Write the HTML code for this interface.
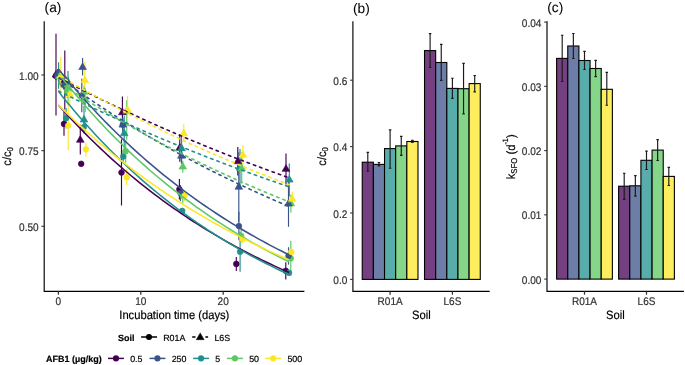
<!DOCTYPE html>
<html><head><meta charset="utf-8"><style>
html,body{margin:0;padding:0;background:#fff;}
svg{display:block;font-family:"Liberation Sans",sans-serif;text-rendering:geometricPrecision;will-change:transform;}
text{stroke:currentColor;stroke-width:0.18px;}
</style></head><body>
<svg width="685" height="365" viewBox="0 0 685 365">
<rect width="685" height="365" fill="#fff"/>
<line x1="55.90" y1="72.00" x2="55.90" y2="80.00" stroke="#440154" stroke-width="1.15"/>
<line x1="56.00" y1="33.80" x2="56.00" y2="115.50" stroke="#440154" stroke-width="1.15"/>
<line x1="64.00" y1="112.00" x2="64.00" y2="135.70" stroke="#440154" stroke-width="1.15"/>
<line x1="64.80" y1="50.60" x2="64.80" y2="109.40" stroke="#440154" stroke-width="1.15"/>
<line x1="81.20" y1="162.00" x2="81.20" y2="165.60" stroke="#440154" stroke-width="1.15"/>
<line x1="80.30" y1="124.70" x2="80.30" y2="154.60" stroke="#440154" stroke-width="1.15"/>
<line x1="121.50" y1="139.30" x2="121.50" y2="205.50" stroke="#440154" stroke-width="1.15"/>
<line x1="122.40" y1="96.50" x2="122.40" y2="128.50" stroke="#440154" stroke-width="1.15"/>
<line x1="179.40" y1="179.00" x2="179.40" y2="199.60" stroke="#440154" stroke-width="1.15"/>
<line x1="179.80" y1="133.90" x2="179.80" y2="161.80" stroke="#440154" stroke-width="1.15"/>
<line x1="236.30" y1="257.00" x2="236.30" y2="270.90" stroke="#440154" stroke-width="1.15"/>
<line x1="237.80" y1="147.00" x2="237.80" y2="175.60" stroke="#440154" stroke-width="1.15"/>
<line x1="285.80" y1="262.20" x2="285.80" y2="279.40" stroke="#440154" stroke-width="1.15"/>
<line x1="286.00" y1="153.60" x2="286.00" y2="184.60" stroke="#440154" stroke-width="1.15"/>
<line x1="58.40" y1="70.00" x2="58.40" y2="81.00" stroke="#21908C" stroke-width="1.15"/>
<line x1="58.60" y1="62.20" x2="58.60" y2="88.80" stroke="#21908C" stroke-width="1.15"/>
<line x1="66.10" y1="108.00" x2="66.10" y2="128.40" stroke="#21908C" stroke-width="1.15"/>
<line x1="68.00" y1="71.10" x2="68.00" y2="93.00" stroke="#21908C" stroke-width="1.15"/>
<line x1="83.80" y1="121.00" x2="83.80" y2="133.00" stroke="#21908C" stroke-width="1.15"/>
<line x1="84.00" y1="106.00" x2="84.00" y2="133.60" stroke="#21908C" stroke-width="1.15"/>
<line x1="123.20" y1="150.00" x2="123.20" y2="163.00" stroke="#21908C" stroke-width="1.15"/>
<line x1="124.20" y1="115.80" x2="124.20" y2="151.20" stroke="#21908C" stroke-width="1.15"/>
<line x1="182.20" y1="208.50" x2="182.20" y2="213.30" stroke="#21908C" stroke-width="1.15"/>
<line x1="181.60" y1="136.00" x2="181.60" y2="161.00" stroke="#21908C" stroke-width="1.15"/>
<line x1="240.10" y1="231.70" x2="240.10" y2="271.70" stroke="#21908C" stroke-width="1.15"/>
<line x1="240.00" y1="149.00" x2="240.00" y2="187.00" stroke="#21908C" stroke-width="1.15"/>
<line x1="289.00" y1="271.30" x2="289.00" y2="274.30" stroke="#21908C" stroke-width="1.15"/>
<line x1="289.30" y1="163.40" x2="289.30" y2="196.40" stroke="#21908C" stroke-width="1.15"/>
<line x1="59.80" y1="72.00" x2="59.80" y2="81.00" stroke="#5DC863" stroke-width="1.15"/>
<line x1="59.40" y1="70.00" x2="59.40" y2="85.00" stroke="#5DC863" stroke-width="1.15"/>
<line x1="67.20" y1="86.00" x2="67.20" y2="98.00" stroke="#5DC863" stroke-width="1.15"/>
<line x1="68.10" y1="74.80" x2="68.10" y2="105.00" stroke="#5DC863" stroke-width="1.15"/>
<line x1="85.20" y1="88.00" x2="85.20" y2="112.00" stroke="#5DC863" stroke-width="1.15"/>
<line x1="84.20" y1="85.00" x2="84.20" y2="99.00" stroke="#5DC863" stroke-width="1.15"/>
<line x1="125.70" y1="140.00" x2="125.70" y2="162.70" stroke="#5DC863" stroke-width="1.15"/>
<line x1="126.70" y1="100.20" x2="126.70" y2="139.70" stroke="#5DC863" stroke-width="1.15"/>
<line x1="182.80" y1="189.00" x2="182.80" y2="203.20" stroke="#5DC863" stroke-width="1.15"/>
<line x1="182.80" y1="160.80" x2="182.80" y2="172.80" stroke="#5DC863" stroke-width="1.15"/>
<line x1="241.20" y1="229.00" x2="241.20" y2="242.50" stroke="#5DC863" stroke-width="1.15"/>
<line x1="241.70" y1="152.00" x2="241.70" y2="183.80" stroke="#5DC863" stroke-width="1.15"/>
<line x1="290.80" y1="240.80" x2="290.80" y2="275.80" stroke="#5DC863" stroke-width="1.15"/>
<line x1="290.90" y1="194.40" x2="290.90" y2="212.80" stroke="#5DC863" stroke-width="1.15"/>
<line x1="57.10" y1="72.00" x2="57.10" y2="78.00" stroke="#3B528B" stroke-width="1.15"/>
<line x1="57.70" y1="69.00" x2="57.70" y2="77.60" stroke="#3B528B" stroke-width="1.15"/>
<line x1="63.40" y1="80.00" x2="63.40" y2="89.60" stroke="#3B528B" stroke-width="1.15"/>
<line x1="65.80" y1="76.00" x2="65.80" y2="88.00" stroke="#3B528B" stroke-width="1.15"/>
<line x1="81.80" y1="78.80" x2="81.80" y2="112.20" stroke="#3B528B" stroke-width="1.15"/>
<line x1="82.60" y1="58.10" x2="82.60" y2="75.50" stroke="#3B528B" stroke-width="1.15"/>
<line x1="122.80" y1="119.00" x2="122.80" y2="130.50" stroke="#3B528B" stroke-width="1.15"/>
<line x1="122.80" y1="118.00" x2="122.80" y2="132.00" stroke="#3B528B" stroke-width="1.15"/>
<line x1="180.50" y1="185.00" x2="180.50" y2="201.10" stroke="#3B528B" stroke-width="1.15"/>
<line x1="181.40" y1="148.00" x2="181.40" y2="163.80" stroke="#3B528B" stroke-width="1.15"/>
<line x1="238.90" y1="211.80" x2="238.90" y2="240.20" stroke="#3B528B" stroke-width="1.15"/>
<line x1="238.80" y1="152.30" x2="238.80" y2="221.70" stroke="#3B528B" stroke-width="1.15"/>
<line x1="288.50" y1="247.20" x2="288.50" y2="264.60" stroke="#3B528B" stroke-width="1.15"/>
<line x1="288.50" y1="180.80" x2="288.50" y2="226.80" stroke="#3B528B" stroke-width="1.15"/>
<line x1="61.10" y1="73.00" x2="61.10" y2="80.00" stroke="#FDE725" stroke-width="1.15"/>
<line x1="60.80" y1="56.80" x2="60.80" y2="90.60" stroke="#FDE725" stroke-width="1.15"/>
<line x1="68.20" y1="101.00" x2="68.20" y2="150.00" stroke="#FDE725" stroke-width="1.15"/>
<line x1="69.80" y1="86.00" x2="69.80" y2="104.40" stroke="#FDE725" stroke-width="1.15"/>
<line x1="85.90" y1="142.70" x2="85.90" y2="156.70" stroke="#FDE725" stroke-width="1.15"/>
<line x1="84.80" y1="62.00" x2="84.80" y2="98.80" stroke="#FDE725" stroke-width="1.15"/>
<line x1="126.70" y1="168.80" x2="126.70" y2="185.20" stroke="#FDE725" stroke-width="1.15"/>
<line x1="127.50" y1="95.70" x2="127.50" y2="124.30" stroke="#FDE725" stroke-width="1.15"/>
<line x1="184.50" y1="190.50" x2="184.50" y2="201.00" stroke="#FDE725" stroke-width="1.15"/>
<line x1="183.80" y1="124.00" x2="183.80" y2="142.10" stroke="#FDE725" stroke-width="1.15"/>
<line x1="242.50" y1="235.00" x2="242.50" y2="243.00" stroke="#FDE725" stroke-width="1.15"/>
<line x1="242.90" y1="144.90" x2="242.90" y2="165.10" stroke="#FDE725" stroke-width="1.15"/>
<line x1="291.30" y1="251.00" x2="291.30" y2="252.80" stroke="#FDE725" stroke-width="1.15"/>
<line x1="292.20" y1="191.70" x2="292.20" y2="206.50" stroke="#FDE725" stroke-width="1.15"/>
<circle cx="55.90" cy="76.00" r="2.85" fill="#440154" stroke="#440154" stroke-width="0.65"/>
<circle cx="64.00" cy="123.90" r="2.85" fill="#440154" stroke="#440154" stroke-width="0.65"/>
<circle cx="81.20" cy="163.80" r="2.85" fill="#440154" stroke="#440154" stroke-width="0.65"/>
<circle cx="121.50" cy="172.50" r="2.85" fill="#440154" stroke="#440154" stroke-width="0.65"/>
<circle cx="179.40" cy="189.30" r="2.85" fill="#440154" stroke="#440154" stroke-width="0.65"/>
<circle cx="236.30" cy="263.90" r="2.85" fill="#440154" stroke="#440154" stroke-width="0.65"/>
<circle cx="285.80" cy="270.80" r="2.85" fill="#440154" stroke="#440154" stroke-width="0.65"/>
<circle cx="58.40" cy="75.50" r="2.85" fill="#21908C" stroke="#21908C" stroke-width="0.65"/>
<circle cx="66.10" cy="118.20" r="2.85" fill="#21908C" stroke="#21908C" stroke-width="0.65"/>
<circle cx="83.80" cy="127.00" r="2.85" fill="#21908C" stroke="#21908C" stroke-width="0.65"/>
<circle cx="123.20" cy="156.50" r="2.85" fill="#21908C" stroke="#21908C" stroke-width="0.65"/>
<circle cx="182.20" cy="210.90" r="2.85" fill="#21908C" stroke="#21908C" stroke-width="0.65"/>
<circle cx="240.10" cy="251.70" r="2.85" fill="#21908C" stroke="#21908C" stroke-width="0.65"/>
<circle cx="289.00" cy="272.80" r="2.85" fill="#21908C" stroke="#21908C" stroke-width="0.65"/>
<circle cx="59.80" cy="76.50" r="2.85" fill="#5DC863" stroke="#5DC863" stroke-width="0.65"/>
<circle cx="67.20" cy="92.00" r="2.85" fill="#5DC863" stroke="#5DC863" stroke-width="0.65"/>
<circle cx="85.20" cy="100.00" r="2.85" fill="#5DC863" stroke="#5DC863" stroke-width="0.65"/>
<circle cx="125.70" cy="151.20" r="2.85" fill="#5DC863" stroke="#5DC863" stroke-width="0.65"/>
<circle cx="182.80" cy="196.00" r="2.85" fill="#5DC863" stroke="#5DC863" stroke-width="0.65"/>
<circle cx="241.20" cy="235.80" r="2.85" fill="#5DC863" stroke="#5DC863" stroke-width="0.65"/>
<circle cx="290.80" cy="258.30" r="2.85" fill="#5DC863" stroke="#5DC863" stroke-width="0.65"/>
<circle cx="57.10" cy="75.00" r="2.85" fill="#3B528B" stroke="#3B528B" stroke-width="0.65"/>
<circle cx="63.40" cy="84.80" r="2.85" fill="#3B528B" stroke="#3B528B" stroke-width="0.65"/>
<circle cx="81.80" cy="95.50" r="2.85" fill="#3B528B" stroke="#3B528B" stroke-width="0.65"/>
<circle cx="122.80" cy="124.60" r="2.85" fill="#3B528B" stroke="#3B528B" stroke-width="0.65"/>
<circle cx="180.50" cy="193.00" r="2.85" fill="#3B528B" stroke="#3B528B" stroke-width="0.65"/>
<circle cx="238.90" cy="226.00" r="2.85" fill="#3B528B" stroke="#3B528B" stroke-width="0.65"/>
<circle cx="288.50" cy="255.90" r="2.85" fill="#3B528B" stroke="#3B528B" stroke-width="0.65"/>
<circle cx="61.10" cy="76.50" r="2.85" fill="#FDE725" stroke="#FDE725" stroke-width="0.65"/>
<circle cx="68.20" cy="125.60" r="2.85" fill="#FDE725" stroke="#FDE725" stroke-width="0.65"/>
<circle cx="85.90" cy="149.30" r="2.85" fill="#FDE725" stroke="#FDE725" stroke-width="0.65"/>
<circle cx="126.70" cy="177.20" r="2.85" fill="#FDE725" stroke="#FDE725" stroke-width="0.65"/>
<circle cx="184.50" cy="195.80" r="2.85" fill="#FDE725" stroke="#FDE725" stroke-width="0.65"/>
<circle cx="242.50" cy="239.00" r="2.85" fill="#FDE725" stroke="#FDE725" stroke-width="0.65"/>
<circle cx="291.30" cy="251.90" r="2.85" fill="#FDE725" stroke="#FDE725" stroke-width="0.65"/>
<path d="M56.00,70.47L59.84,77.12L52.16,77.12Z" fill="#440154" stroke="#440154" stroke-width="0.65" stroke-linejoin="round"/>
<path d="M64.80,75.57L68.64,82.22L60.96,82.22Z" fill="#440154" stroke="#440154" stroke-width="0.65" stroke-linejoin="round"/>
<path d="M80.30,135.57L84.14,142.22L76.46,142.22Z" fill="#440154" stroke="#440154" stroke-width="0.65" stroke-linejoin="round"/>
<path d="M122.40,108.07L126.24,114.72L118.56,114.72Z" fill="#440154" stroke="#440154" stroke-width="0.65" stroke-linejoin="round"/>
<path d="M179.80,143.57L183.64,150.22L175.96,150.22Z" fill="#440154" stroke="#440154" stroke-width="0.65" stroke-linejoin="round"/>
<path d="M237.80,157.07L241.64,163.72L233.96,163.72Z" fill="#440154" stroke="#440154" stroke-width="0.65" stroke-linejoin="round"/>
<path d="M286.00,164.67L289.84,171.32L282.16,171.32Z" fill="#440154" stroke="#440154" stroke-width="0.65" stroke-linejoin="round"/>
<path d="M58.60,71.37L62.44,78.02L54.76,78.02Z" fill="#21908C" stroke="#21908C" stroke-width="0.65" stroke-linejoin="round"/>
<path d="M68.00,77.57L71.84,84.22L64.16,84.22Z" fill="#21908C" stroke="#21908C" stroke-width="0.65" stroke-linejoin="round"/>
<path d="M84.00,115.37L87.84,122.02L80.16,122.02Z" fill="#21908C" stroke="#21908C" stroke-width="0.65" stroke-linejoin="round"/>
<path d="M124.20,129.07L128.04,135.72L120.36,135.72Z" fill="#21908C" stroke="#21908C" stroke-width="0.65" stroke-linejoin="round"/>
<path d="M181.60,144.07L185.44,150.72L177.76,150.72Z" fill="#21908C" stroke="#21908C" stroke-width="0.65" stroke-linejoin="round"/>
<path d="M240.00,163.57L243.84,170.22L236.16,170.22Z" fill="#21908C" stroke="#21908C" stroke-width="0.65" stroke-linejoin="round"/>
<path d="M289.30,175.47L293.14,182.12L285.46,182.12Z" fill="#21908C" stroke="#21908C" stroke-width="0.65" stroke-linejoin="round"/>
<path d="M59.40,72.37L63.24,79.02L55.56,79.02Z" fill="#5DC863" stroke="#5DC863" stroke-width="0.65" stroke-linejoin="round"/>
<path d="M68.10,83.57L71.94,90.22L64.26,90.22Z" fill="#5DC863" stroke="#5DC863" stroke-width="0.65" stroke-linejoin="round"/>
<path d="M84.20,87.57L88.04,94.22L80.36,94.22Z" fill="#5DC863" stroke="#5DC863" stroke-width="0.65" stroke-linejoin="round"/>
<path d="M126.70,106.57L130.54,113.22L122.86,113.22Z" fill="#5DC863" stroke="#5DC863" stroke-width="0.65" stroke-linejoin="round"/>
<path d="M182.80,162.37L186.64,169.02L178.96,169.02Z" fill="#5DC863" stroke="#5DC863" stroke-width="0.65" stroke-linejoin="round"/>
<path d="M241.70,164.07L245.54,170.72L237.86,170.72Z" fill="#5DC863" stroke="#5DC863" stroke-width="0.65" stroke-linejoin="round"/>
<path d="M290.90,199.17L294.74,205.82L287.06,205.82Z" fill="#5DC863" stroke="#5DC863" stroke-width="0.65" stroke-linejoin="round"/>
<path d="M57.70,69.37L61.54,76.02L53.86,76.02Z" fill="#3B528B" stroke="#3B528B" stroke-width="0.65" stroke-linejoin="round"/>
<path d="M65.80,77.57L69.64,84.22L61.96,84.22Z" fill="#3B528B" stroke="#3B528B" stroke-width="0.65" stroke-linejoin="round"/>
<path d="M82.60,62.87L86.44,69.52L78.76,69.52Z" fill="#3B528B" stroke="#3B528B" stroke-width="0.65" stroke-linejoin="round"/>
<path d="M122.80,120.47L126.64,127.12L118.96,127.12Z" fill="#3B528B" stroke="#3B528B" stroke-width="0.65" stroke-linejoin="round"/>
<path d="M181.40,151.57L185.24,158.22L177.56,158.22Z" fill="#3B528B" stroke="#3B528B" stroke-width="0.65" stroke-linejoin="round"/>
<path d="M238.80,182.57L242.64,189.22L234.96,189.22Z" fill="#3B528B" stroke="#3B528B" stroke-width="0.65" stroke-linejoin="round"/>
<path d="M288.50,199.37L292.34,206.02L284.66,206.02Z" fill="#3B528B" stroke="#3B528B" stroke-width="0.65" stroke-linejoin="round"/>
<path d="M60.80,71.37L64.64,78.02L56.96,78.02Z" fill="#FDE725" stroke="#FDE725" stroke-width="0.65" stroke-linejoin="round"/>
<path d="M69.80,89.97L73.64,96.62L65.96,96.62Z" fill="#FDE725" stroke="#FDE725" stroke-width="0.65" stroke-linejoin="round"/>
<path d="M84.80,75.97L88.64,82.62L80.96,82.62Z" fill="#FDE725" stroke="#FDE725" stroke-width="0.65" stroke-linejoin="round"/>
<path d="M127.50,105.57L131.34,112.22L123.66,112.22Z" fill="#FDE725" stroke="#FDE725" stroke-width="0.65" stroke-linejoin="round"/>
<path d="M183.80,129.07L187.64,135.72L179.96,135.72Z" fill="#FDE725" stroke="#FDE725" stroke-width="0.65" stroke-linejoin="round"/>
<path d="M242.90,150.57L246.74,157.22L239.06,157.22Z" fill="#FDE725" stroke="#FDE725" stroke-width="0.65" stroke-linejoin="round"/>
<path d="M292.20,194.67L296.04,201.32L288.36,201.32Z" fill="#FDE725" stroke="#FDE725" stroke-width="0.65" stroke-linejoin="round"/>
<polyline points="58.40,104.96 62.25,109.25 66.09,113.48 69.94,117.65 73.78,121.74 77.63,125.77 81.47,129.74 85.32,133.65 89.16,137.49 93.01,141.28 96.85,145.00 100.70,148.67 104.54,152.28 108.39,155.83 112.23,159.32 116.08,162.76 119.93,166.15 123.77,169.48 127.62,172.76 131.46,175.99 135.31,179.17 139.15,182.29 143.00,185.37 146.84,188.40 150.69,191.38 154.53,194.32 158.38,197.21 162.22,200.05 166.07,202.85 169.91,205.60 173.76,208.31 177.61,210.98 181.45,213.61 185.30,216.19 189.14,218.73 192.99,221.24 196.83,223.70 200.68,226.13 204.52,228.51 208.37,230.86 212.21,233.18 216.06,235.45 219.90,237.69 223.75,239.90 227.59,242.07 231.44,244.20 235.29,246.31 239.13,248.38 242.98,250.41 246.82,252.42 250.67,254.39 254.51,256.33 258.36,258.24 262.20,260.12 266.05,261.97 269.89,263.80 273.74,265.59 277.58,267.36 281.43,269.09 285.27,270.80 289.12,272.49" fill="none" stroke="#440154" stroke-width="1.55"/>
<polyline points="58.40,77.66 62.25,79.69 66.09,81.69 69.94,83.69 73.78,85.67 77.63,87.64 81.47,89.60 85.32,91.54 89.16,93.47 93.01,95.38 96.85,97.29 100.70,99.18 104.54,101.06 108.39,102.92 112.23,104.77 116.08,106.61 119.93,108.44 123.77,110.26 127.62,112.06 131.46,113.85 135.31,115.63 139.15,117.39 143.00,119.15 146.84,120.89 150.69,122.62 154.53,124.34 158.38,126.05 162.22,127.75 166.07,129.43 169.91,131.11 173.76,132.77 177.61,134.42 181.45,136.06 185.30,137.69 189.14,139.31 192.99,140.91 196.83,142.51 200.68,144.09 204.52,145.67 208.37,147.23 212.21,148.79 216.06,150.33 219.90,151.86 223.75,153.38 227.59,154.90 231.44,156.40 235.29,157.89 239.13,159.37 242.98,160.84 246.82,162.31 250.67,163.76 254.51,165.20 258.36,166.63 262.20,168.05 266.05,169.47 269.89,170.87 273.74,172.27 277.58,173.65 281.43,175.03 285.27,176.39 289.12,177.75" fill="none" stroke="#440154" stroke-width="1.62" stroke-dasharray="2.4 4.25" stroke-dashoffset="-0.91" stroke-linecap="round"/>
<polyline points="58.40,68.95 62.25,73.66 66.09,78.29 69.94,82.86 73.78,87.35 77.63,91.78 81.47,96.14 85.32,100.44 89.16,104.66 93.01,108.83 96.85,112.93 100.70,116.96 104.54,120.94 108.39,124.86 112.23,128.71 116.08,132.51 119.93,136.25 123.77,139.93 127.62,143.55 131.46,147.12 135.31,150.64 139.15,154.10 143.00,157.51 146.84,160.87 150.69,164.17 154.53,167.43 158.38,170.64 162.22,173.79 166.07,176.90 169.91,179.96 173.76,182.98 177.61,185.95 181.45,188.87 185.30,191.75 189.14,194.59 192.99,197.38 196.83,200.13 200.68,202.83 204.52,205.50 208.37,208.12 212.21,210.71 216.06,213.26 219.90,215.76 223.75,218.23 227.59,220.66 231.44,223.06 235.29,225.41 239.13,227.74 242.98,230.02 246.82,232.27 250.67,234.49 254.51,236.67 258.36,238.82 262.20,240.94 266.05,243.02 269.89,245.08 273.74,247.10 277.58,249.09 281.43,251.05 285.27,252.98 289.12,254.88" fill="none" stroke="#3B528B" stroke-width="1.55"/>
<polyline points="58.40,77.00 62.25,79.81 66.09,82.59 69.94,85.35 73.78,88.08 77.63,90.78 81.47,93.46 85.32,96.12 89.16,98.75 93.01,101.36 96.85,103.94 100.70,106.49 104.54,109.03 108.39,111.54 112.23,114.02 116.08,116.49 119.93,118.93 123.77,121.35 127.62,123.74 131.46,126.11 135.31,128.46 139.15,130.79 143.00,133.10 146.84,135.38 150.69,137.65 154.53,139.89 158.38,142.11 162.22,144.31 166.07,146.49 169.91,148.65 173.76,150.79 177.61,152.91 181.45,155.01 185.30,157.09 189.14,159.15 192.99,161.19 196.83,163.21 200.68,165.22 204.52,167.20 208.37,169.17 212.21,171.12 216.06,173.05 219.90,174.96 223.75,176.85 227.59,178.73 231.44,180.59 235.29,182.43 239.13,184.25 242.98,186.06 246.82,187.85 250.67,189.62 254.51,191.38 258.36,193.12 262.20,194.84 266.05,196.55 269.89,198.24 273.74,199.92 277.58,201.58 281.43,203.22 285.27,204.85 289.12,206.47" fill="none" stroke="#3B528B" stroke-width="1.62" stroke-dasharray="2.4 4.25" stroke-dashoffset="-1.79" stroke-linecap="round"/>
<polyline points="58.40,91.34 62.25,96.18 66.09,100.93 69.94,105.60 73.78,110.19 77.63,114.71 81.47,119.15 85.32,123.52 89.16,127.81 93.01,132.03 96.85,136.17 100.70,140.25 104.54,144.26 108.39,148.20 112.23,152.07 116.08,155.88 119.93,159.63 123.77,163.31 127.62,166.93 131.46,170.49 135.31,173.98 139.15,177.42 143.00,180.80 146.84,184.13 150.69,187.40 154.53,190.61 158.38,193.77 162.22,196.87 166.07,199.92 169.91,202.92 173.76,205.87 177.61,208.77 181.45,211.63 185.30,214.43 189.14,217.18 192.99,219.89 196.83,222.56 200.68,225.18 204.52,227.75 208.37,230.28 212.21,232.77 216.06,235.22 219.90,237.62 223.75,239.98 227.59,242.31 231.44,244.59 235.29,246.84 239.13,249.05 242.98,251.22 246.82,253.35 250.67,255.45 254.51,257.52 258.36,259.54 262.20,261.54 266.05,263.50 269.89,265.42 273.74,267.32 277.58,269.18 281.43,271.01 285.27,272.81 289.12,274.58" fill="none" stroke="#21908C" stroke-width="1.55"/>
<polyline points="58.40,90.89 62.25,92.83 66.09,94.75 69.94,96.66 73.78,98.56 77.63,100.45 81.47,102.32 85.32,104.19 89.16,106.04 93.01,107.87 96.85,109.70 100.70,111.51 104.54,113.31 108.39,115.09 112.23,116.87 116.08,118.63 119.93,120.38 123.77,122.12 127.62,123.85 131.46,125.57 135.31,127.27 139.15,128.96 143.00,130.65 146.84,132.32 150.69,133.97 154.53,135.62 158.38,137.26 162.22,138.88 166.07,140.50 169.91,142.10 173.76,143.69 177.61,145.27 181.45,146.85 185.30,148.41 189.14,149.96 192.99,151.50 196.83,153.02 200.68,154.54 204.52,156.05 208.37,157.55 212.21,159.04 216.06,160.52 219.90,161.98 223.75,163.44 227.59,164.89 231.44,166.33 235.29,167.76 239.13,169.18 242.98,170.59 246.82,171.99 250.67,173.38 254.51,174.76 258.36,176.13 262.20,177.49 266.05,178.84 269.89,180.19 273.74,181.52 277.58,182.85 281.43,184.17 285.27,185.47 289.12,186.77" fill="none" stroke="#21908C" stroke-width="1.62" stroke-dasharray="2.4 4.25" stroke-dashoffset="-0.45" stroke-linecap="round"/>
<polyline points="58.40,73.49 62.25,78.34 66.09,83.12 69.94,87.83 73.78,92.45 77.63,97.01 81.47,101.49 85.32,105.90 89.16,110.24 93.01,114.51 96.85,118.71 100.70,122.85 104.54,126.91 108.39,130.92 112.23,134.86 116.08,138.73 119.93,142.55 123.77,146.30 127.62,150.00 131.46,153.63 135.31,157.21 139.15,160.73 143.00,164.19 146.84,167.60 150.69,170.96 154.53,174.26 158.38,177.50 162.22,180.70 166.07,183.84 169.91,186.94 173.76,189.98 177.61,192.98 181.45,195.93 185.30,198.83 189.14,201.69 192.99,204.49 196.83,207.26 200.68,209.98 204.52,212.66 208.37,215.29 212.21,217.88 216.06,220.43 219.90,222.94 223.75,225.41 227.59,227.85 231.44,230.24 235.29,232.59 239.13,234.91 242.98,237.19 246.82,239.43 250.67,241.63 254.51,243.81 258.36,245.94 262.20,248.05 266.05,250.11 269.89,252.15 273.74,254.15 277.58,256.13 281.43,258.07 285.27,259.98 289.12,261.85" fill="none" stroke="#5DC863" stroke-width="1.55"/>
<polyline points="58.40,82.02 62.25,84.57 66.09,87.10 69.94,89.61 73.78,92.09 77.63,94.55 81.47,97.00 85.32,99.42 89.16,101.82 93.01,104.20 96.85,106.56 100.70,108.90 104.54,111.21 108.39,113.51 112.23,115.79 116.08,118.05 119.93,120.29 123.77,122.51 127.62,124.71 131.46,126.89 135.31,129.06 139.15,131.20 143.00,133.33 146.84,135.43 150.69,137.52 154.53,139.60 158.38,141.65 162.22,143.69 166.07,145.70 169.91,147.70 173.76,149.69 177.61,151.65 181.45,153.60 185.30,155.54 189.14,157.45 192.99,159.35 196.83,161.24 200.68,163.10 204.52,164.95 208.37,166.79 212.21,168.61 216.06,170.41 219.90,172.20 223.75,173.97 227.59,175.73 231.44,177.47 235.29,179.20 239.13,180.91 242.98,182.61 246.82,184.29 250.67,185.96 254.51,187.61 258.36,189.25 262.20,190.87 266.05,192.49 269.89,194.08 273.74,195.67 277.58,197.24 281.43,198.79 285.27,200.34 289.12,201.86" fill="none" stroke="#5DC863" stroke-width="1.62" stroke-dasharray="2.4 4.25" stroke-dashoffset="-1.01" stroke-linecap="round"/>
<polyline points="58.40,104.96 62.25,108.75 66.09,112.49 69.94,116.17 73.78,119.81 77.63,123.39 81.47,126.92 85.32,130.41 89.16,133.85 93.01,137.23 96.85,140.58 100.70,143.87 104.54,147.12 108.39,150.32 112.23,153.48 116.08,156.60 119.93,159.67 123.77,162.70 127.62,165.69 131.46,168.64 135.31,171.54 139.15,174.41 143.00,177.23 146.84,180.02 150.69,182.76 154.53,185.47 158.38,188.14 162.22,190.78 166.07,193.37 169.91,195.94 173.76,198.46 177.61,200.95 181.45,203.41 185.30,205.83 189.14,208.22 192.99,210.57 196.83,212.89 200.68,215.18 204.52,217.44 208.37,219.67 212.21,221.86 216.06,224.03 219.90,226.16 223.75,228.27 227.59,230.35 231.44,232.39 235.29,234.41 239.13,236.40 242.98,238.37 246.82,240.30 250.67,242.21 254.51,244.09 258.36,245.95 262.20,247.78 266.05,249.58 269.89,251.36 273.74,253.12 277.58,254.85 281.43,256.56 285.27,258.24 289.12,259.90" fill="none" stroke="#FDE725" stroke-width="1.55"/>
<polyline points="58.40,75.15 62.25,77.41 66.09,79.65 69.94,81.87 73.78,84.08 77.63,86.27 81.47,88.44 85.32,90.60 89.16,92.74 93.01,94.87 96.85,96.98 100.70,99.07 104.54,101.15 108.39,103.21 112.23,105.26 116.08,107.29 119.93,109.31 123.77,111.31 127.62,113.30 131.46,115.27 135.31,117.23 139.15,119.17 143.00,121.10 146.84,123.01 150.69,124.91 154.53,126.80 158.38,128.67 162.22,130.53 166.07,132.37 169.91,134.20 173.76,136.02 177.61,137.82 181.45,139.61 185.30,141.39 189.14,143.15 192.99,144.90 196.83,146.63 200.68,148.36 204.52,150.07 208.37,151.77 212.21,153.45 216.06,155.12 219.90,156.78 223.75,158.43 227.59,160.07 231.44,161.69 235.29,163.30 239.13,164.90 242.98,166.49 246.82,168.06 250.67,169.63 254.51,171.18 258.36,172.72 262.20,174.25 266.05,175.76 269.89,177.27 273.74,178.77 277.58,180.25 281.43,181.72 285.27,183.18 289.12,184.63" fill="none" stroke="#FDE725" stroke-width="1.62" stroke-dasharray="2.4 4.25" stroke-dashoffset="-1.23" stroke-linecap="round"/>
<path d="M44.2,21.3V291.4H304.4" fill="none" stroke="#000" stroke-width="1.15"/>
<line x1="41.4" y1="75.00" x2="44.2" y2="75.00" stroke="#333333" stroke-width="1.1"/>
<text transform="translate(38.60,79.50) scale(1,1.1)" font-size="10.05" fill="#303030" color="#303030" text-anchor="end">1.00</text>
<line x1="41.4" y1="150.65" x2="44.2" y2="150.65" stroke="#333333" stroke-width="1.1"/>
<text transform="translate(38.60,155.15) scale(1,1.1)" font-size="10.05" fill="#303030" color="#303030" text-anchor="end">0.75</text>
<line x1="41.4" y1="226.30" x2="44.2" y2="226.30" stroke="#333333" stroke-width="1.1"/>
<text transform="translate(38.60,230.80) scale(1,1.1)" font-size="10.05" fill="#303030" color="#303030" text-anchor="end">0.50</text>
<line x1="58.40" y1="291.4" x2="58.40" y2="294.7" stroke="#333333" stroke-width="1.25"/>
<text transform="translate(58.40,304.90) scale(1,1.1)" font-size="10.05" fill="#303030" color="#303030" text-anchor="middle">0</text>
<line x1="140.80" y1="291.4" x2="140.80" y2="294.7" stroke="#333333" stroke-width="1.25"/>
<text transform="translate(140.80,304.90) scale(1,1.1)" font-size="10.05" fill="#303030" color="#303030" text-anchor="middle">10</text>
<line x1="223.20" y1="291.4" x2="223.20" y2="294.7" stroke="#333333" stroke-width="1.25"/>
<text transform="translate(223.20,304.90) scale(1,1.1)" font-size="10.05" fill="#303030" color="#303030" text-anchor="middle">20</text>
<text transform="translate(174.3,319.2) scale(1,1.08)" font-size="11.2" text-anchor="middle">Incubation time (days)</text>
<text transform="translate(11.1,156.4) rotate(-90) scale(1,1.08)" font-size="11.2" text-anchor="middle">c/c<tspan font-size="7.8" dy="2.0">0</tspan></text>
<text x="44.6" y="12.2" font-size="13.7" style="stroke-width:0.05px">(a)</text>
<path d="M352.9,21.3V291.4H489.7" fill="none" stroke="#000" stroke-width="1.15"/>
<line x1="350.09999999999997" y1="279.40" x2="352.9" y2="279.40" stroke="#333333" stroke-width="1.1"/>
<text transform="translate(347.30,283.90) scale(1,1.1)" font-size="10.05" fill="#303030" color="#303030" text-anchor="end">0.0</text>
<line x1="350.09999999999997" y1="213.00" x2="352.9" y2="213.00" stroke="#333333" stroke-width="1.1"/>
<text transform="translate(347.30,217.50) scale(1,1.1)" font-size="10.05" fill="#303030" color="#303030" text-anchor="end">0.2</text>
<line x1="350.09999999999997" y1="146.60" x2="352.9" y2="146.60" stroke="#333333" stroke-width="1.1"/>
<text transform="translate(347.30,151.10) scale(1,1.1)" font-size="10.05" fill="#303030" color="#303030" text-anchor="end">0.4</text>
<line x1="350.09999999999997" y1="80.20" x2="352.9" y2="80.20" stroke="#333333" stroke-width="1.1"/>
<text transform="translate(347.30,84.70) scale(1,1.1)" font-size="10.05" fill="#303030" color="#303030" text-anchor="end">0.6</text>
<rect x="362.23" y="162.20" width="11.15" height="117.20" fill="#744081" stroke="#000" stroke-width="1.1"/>
<rect x="373.38" y="164.40" width="11.15" height="115.00" fill="#6C7DA8" stroke="#000" stroke-width="1.1"/>
<rect x="384.53" y="148.60" width="11.15" height="130.80" fill="#58ACA9" stroke="#000" stroke-width="1.1"/>
<rect x="395.68" y="145.90" width="11.15" height="133.50" fill="#86D68A" stroke="#000" stroke-width="1.1"/>
<rect x="406.83" y="141.50" width="11.15" height="137.90" fill="#FEED5C" stroke="#000" stroke-width="1.1"/>
<path d="M366.55,152.40H369.05M367.80,152.40V171.20M366.55,171.20H369.05" stroke="#1a1a1a" stroke-width="1.15" fill="none"/>
<path d="M377.70,162.50H380.20M378.95,162.50V165.90M377.70,165.90H380.20" stroke="#1a1a1a" stroke-width="1.15" fill="none"/>
<path d="M388.85,129.80H391.35M390.10,129.80V168.20M388.85,168.20H391.35" stroke="#1a1a1a" stroke-width="1.15" fill="none"/>
<path d="M400.00,136.30H402.50M401.25,136.30V155.40M400.00,155.40H402.50" stroke="#1a1a1a" stroke-width="1.15" fill="none"/>
<path d="M411.15,140.30H413.65M412.40,140.30V142.30M411.15,142.30H413.65" stroke="#1a1a1a" stroke-width="1.15" fill="none"/>
<line x1="390.10" y1="291.4" x2="390.10" y2="294.7" stroke="#333333" stroke-width="1.25"/>
<text transform="translate(390.10,304.90) scale(1,1.1)" font-size="10.05" fill="#303030" color="#303030" text-anchor="middle">R01A</text>
<rect x="424.52" y="50.60" width="11.15" height="228.80" fill="#744081" stroke="#000" stroke-width="1.1"/>
<rect x="435.67" y="62.50" width="11.15" height="216.90" fill="#6C7DA8" stroke="#000" stroke-width="1.1"/>
<rect x="446.82" y="88.40" width="11.15" height="191.00" fill="#58ACA9" stroke="#000" stroke-width="1.1"/>
<rect x="457.97" y="88.70" width="11.15" height="190.70" fill="#86D68A" stroke="#000" stroke-width="1.1"/>
<rect x="469.12" y="83.60" width="11.15" height="195.80" fill="#FEED5C" stroke="#000" stroke-width="1.1"/>
<path d="M428.85,33.60H431.35M430.10,33.60V67.50M428.85,67.50H431.35" stroke="#1a1a1a" stroke-width="1.15" fill="none"/>
<path d="M440.00,44.30H442.50M441.25,44.30V80.40M440.00,80.40H442.50" stroke="#1a1a1a" stroke-width="1.15" fill="none"/>
<path d="M451.15,78.20H453.65M452.40,78.20V98.40M451.15,98.40H453.65" stroke="#1a1a1a" stroke-width="1.15" fill="none"/>
<path d="M462.30,63.40H464.80M463.55,63.40V113.90M462.30,113.90H464.80" stroke="#1a1a1a" stroke-width="1.15" fill="none"/>
<path d="M473.45,75.50H475.95M474.70,75.50V91.80M473.45,91.80H475.95" stroke="#1a1a1a" stroke-width="1.15" fill="none"/>
<line x1="452.40" y1="291.4" x2="452.40" y2="294.7" stroke="#333333" stroke-width="1.25"/>
<text transform="translate(452.40,304.90) scale(1,1.1)" font-size="10.05" fill="#303030" color="#303030" text-anchor="middle">L6S</text>
<text transform="translate(421.3,319.2) scale(1,1.08)" font-size="11.2" text-anchor="middle">Soil</text>
<text transform="translate(325.8,156.4) rotate(-90) scale(1,1.08)" font-size="11.2" text-anchor="middle">c/c<tspan font-size="7.8" dy="2.0">0</tspan></text>
<text x="353.0" y="12.6" font-size="13.7" style="stroke-width:0.05px">(b)</text>
<path d="M547.0,21.3V291.4H683.9" fill="none" stroke="#000" stroke-width="1.15"/>
<line x1="544.2" y1="279.10" x2="547.0" y2="279.10" stroke="#333333" stroke-width="1.1"/>
<text transform="translate(541.40,283.60) scale(1,1.1)" font-size="10.05" fill="#303030" color="#303030" text-anchor="end">0.00</text>
<line x1="544.2" y1="214.85" x2="547.0" y2="214.85" stroke="#333333" stroke-width="1.1"/>
<text transform="translate(541.40,219.35) scale(1,1.1)" font-size="10.05" fill="#303030" color="#303030" text-anchor="end">0.01</text>
<line x1="544.2" y1="150.60" x2="547.0" y2="150.60" stroke="#333333" stroke-width="1.1"/>
<text transform="translate(541.40,155.10) scale(1,1.1)" font-size="10.05" fill="#303030" color="#303030" text-anchor="end">0.02</text>
<line x1="544.2" y1="86.35" x2="547.0" y2="86.35" stroke="#333333" stroke-width="1.1"/>
<text transform="translate(541.40,90.85) scale(1,1.1)" font-size="10.05" fill="#303030" color="#303030" text-anchor="end">0.03</text>
<line x1="544.2" y1="22.10" x2="547.0" y2="22.10" stroke="#333333" stroke-width="1.1"/>
<text transform="translate(541.40,26.60) scale(1,1.1)" font-size="10.05" fill="#303030" color="#303030" text-anchor="end">0.04</text>
<rect x="556.62" y="58.40" width="11.15" height="220.70" fill="#744081" stroke="#000" stroke-width="1.1"/>
<rect x="567.77" y="46.00" width="11.15" height="233.10" fill="#6C7DA8" stroke="#000" stroke-width="1.1"/>
<rect x="578.92" y="60.50" width="11.15" height="218.60" fill="#58ACA9" stroke="#000" stroke-width="1.1"/>
<rect x="590.08" y="68.50" width="11.15" height="210.60" fill="#86D68A" stroke="#000" stroke-width="1.1"/>
<rect x="601.23" y="89.30" width="11.15" height="189.80" fill="#FEED5C" stroke="#000" stroke-width="1.1"/>
<path d="M560.95,35.20H563.45M562.20,35.20V81.50M560.95,81.50H563.45" stroke="#1a1a1a" stroke-width="1.15" fill="none"/>
<path d="M572.10,33.50H574.60M573.35,33.50V58.50M572.10,58.50H574.60" stroke="#1a1a1a" stroke-width="1.15" fill="none"/>
<path d="M583.25,51.30H585.75M584.50,51.30V69.50M583.25,69.50H585.75" stroke="#1a1a1a" stroke-width="1.15" fill="none"/>
<path d="M594.40,60.40H596.90M595.65,60.40V76.60M594.40,76.60H596.90" stroke="#1a1a1a" stroke-width="1.15" fill="none"/>
<path d="M605.55,72.40H608.05M606.80,72.40V105.20M605.55,105.20H608.05" stroke="#1a1a1a" stroke-width="1.15" fill="none"/>
<line x1="584.50" y1="291.4" x2="584.50" y2="294.7" stroke="#333333" stroke-width="1.25"/>
<text transform="translate(584.50,304.90) scale(1,1.1)" font-size="10.05" fill="#303030" color="#303030" text-anchor="middle">R01A</text>
<rect x="618.62" y="186.20" width="11.15" height="92.90" fill="#744081" stroke="#000" stroke-width="1.1"/>
<rect x="629.77" y="185.80" width="11.15" height="93.30" fill="#6C7DA8" stroke="#000" stroke-width="1.1"/>
<rect x="640.92" y="160.30" width="11.15" height="118.80" fill="#58ACA9" stroke="#000" stroke-width="1.1"/>
<rect x="652.08" y="150.10" width="11.15" height="129.00" fill="#86D68A" stroke="#000" stroke-width="1.1"/>
<rect x="663.23" y="176.40" width="11.15" height="102.70" fill="#FEED5C" stroke="#000" stroke-width="1.1"/>
<path d="M622.95,173.20H625.45M624.20,173.20V199.30M622.95,199.30H625.45" stroke="#1a1a1a" stroke-width="1.15" fill="none"/>
<path d="M634.10,175.60H636.60M635.35,175.60V196.10M634.10,196.10H636.60" stroke="#1a1a1a" stroke-width="1.15" fill="none"/>
<path d="M645.25,151.10H647.75M646.50,151.10V169.50M645.25,169.50H647.75" stroke="#1a1a1a" stroke-width="1.15" fill="none"/>
<path d="M656.40,139.60H658.90M657.65,139.60V160.50M656.40,160.50H658.90" stroke="#1a1a1a" stroke-width="1.15" fill="none"/>
<path d="M667.55,167.40H670.05M668.80,167.40V185.50M667.55,185.50H670.05" stroke="#1a1a1a" stroke-width="1.15" fill="none"/>
<line x1="646.50" y1="291.4" x2="646.50" y2="294.7" stroke="#333333" stroke-width="1.25"/>
<text transform="translate(646.50,304.90) scale(1,1.1)" font-size="10.05" fill="#303030" color="#303030" text-anchor="middle">L6S</text>
<text transform="translate(615.4,319.2) scale(1,1.08)" font-size="11.2" text-anchor="middle">Soil</text>
<text transform="translate(514.6,156.8) rotate(-90) scale(1,1.08)" font-size="11.2" text-anchor="middle">k<tspan font-size="7.8" dy="2.2">SFO</tspan><tspan dy="-2.2"> (d</tspan><tspan font-size="7.4" dy="-6.5">-1</tspan><tspan dy="6.5">)</tspan></text>
<text x="547.3" y="12.0" font-size="13.7" style="stroke-width:0.05px">(c)</text>
<text x="118.0" y="340.9" font-size="9" font-weight="bold">Soil</text>
<line x1="141.1" y1="337.0" x2="157.0" y2="337.0" stroke="#000" stroke-width="1.5"/>
<circle cx="149.0" cy="337.0" r="3.05" fill="#000"/>
<text x="163.2" y="341.0" font-size="8.9">R01A</text>
<line x1="192.2" y1="337.0" x2="208.1" y2="337.0" stroke="#000" stroke-width="1.5" stroke-dasharray="3.3 3.3"/>
<path d="M200.20,332.89L204.11,339.66L196.29,339.66Z" fill="#000" stroke="#000" stroke-width="0.5" stroke-linejoin="round"/>
<text x="214.4" y="341.0" font-size="8.9">L6S</text>
<text x="46.0" y="361.8" font-size="9" font-weight="bold">AFB1 (µg/kg)</text>
<line x1="108.00" y1="358.4" x2="123.90" y2="358.4" stroke="#440154" stroke-width="1.5"/>
<circle cx="115.95" cy="358.4" r="3.05" fill="#440154"/>
<text x="130.20" y="362.4" font-size="8.9">0.5</text>
<line x1="149.50" y1="358.4" x2="165.40" y2="358.4" stroke="#3B528B" stroke-width="1.5"/>
<circle cx="157.45" cy="358.4" r="3.05" fill="#3B528B"/>
<text x="171.70" y="362.4" font-size="8.9">250</text>
<line x1="193.10" y1="358.4" x2="209.00" y2="358.4" stroke="#21908C" stroke-width="1.5"/>
<circle cx="201.05" cy="358.4" r="3.05" fill="#21908C"/>
<text x="215.30" y="362.4" font-size="8.9">5</text>
<line x1="227.00" y1="358.4" x2="242.90" y2="358.4" stroke="#5DC863" stroke-width="1.5"/>
<circle cx="234.95" cy="358.4" r="3.05" fill="#5DC863"/>
<text x="249.20" y="362.4" font-size="8.9">50</text>
<line x1="265.20" y1="358.4" x2="281.10" y2="358.4" stroke="#FDE725" stroke-width="1.5"/>
<circle cx="273.15" cy="358.4" r="3.05" fill="#FDE725"/>
<text x="287.40" y="362.4" font-size="8.9">500</text>
</svg></body></html>
